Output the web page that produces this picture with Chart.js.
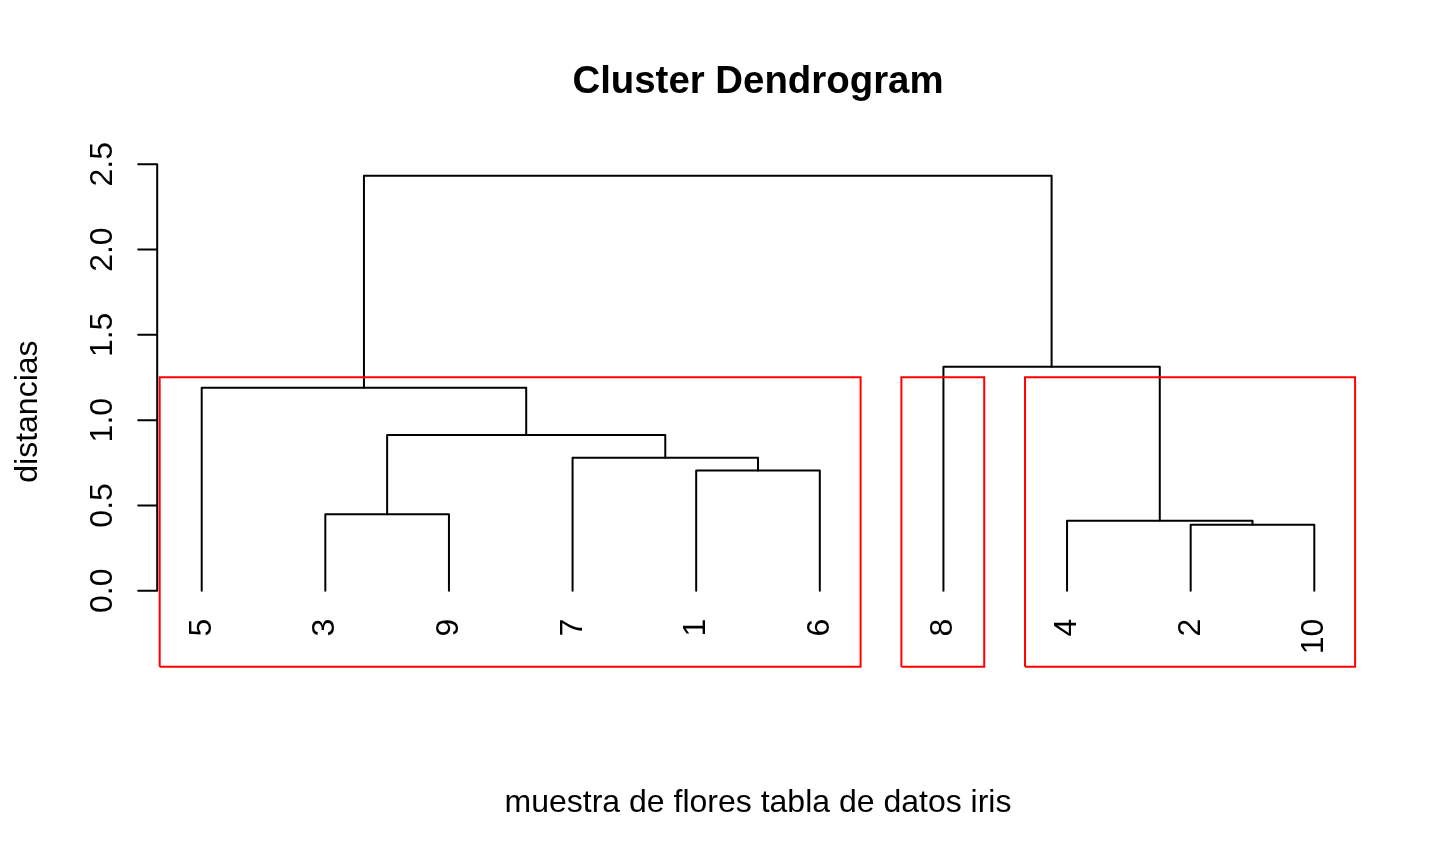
<!DOCTYPE html>
<html><head><meta charset="utf-8">
<script src="https://cdn.jsdelivr.net/npm/chart.js@4/dist/chart.umd.min.js"></script>
<style>html,body{margin:0;padding:0;background:#fff;} #wrap{width:1440px;height:864px;position:relative}</style>
</head><body><div id="wrap"><canvas id="c" width="1440" height="864"></canvas></div>
<script>
const chartTitle = "Cluster Dendrogram";
const xAxisTitle = "muestra de flores tabla de datos iris";
const yAxisTitle = "distancias";
// leaf order, left to right (observation labels)
const leafOrder = [5, 3, 9, 7, 1, 6, 8, 4, 2, 10];
// hclust merges: negative = observation, positive = earlier merge (1-based)
const mergeLeft   = [-2, -4, -3, -1, -7, 3, -5, -8, 7];
const mergeRight  = [-10, 1, -9, -6, 4, 5, 6, 2, 8];
const mergeHeight = [0.387, 0.410, 0.448, 0.704, 0.780, 0.913, 1.190, 1.313, 2.433];
// rect.hclust(k = 3) cluster sizes, left to right
const clusterSizes = [6, 1, 3];
const yTicks = [0, 0.5, 1, 1.5, 2, 2.5];
const yTickLabels = ["0.0", "0.5", "1.0", "1.5", "2.0", "2.5"];

const FONT = '"Liberation Sans", Arial, Helvetica, sans-serif';

const leafPos = {};
leafOrder.forEach((o, i) => { leafPos[o] = i + 1; });
const nodeX = [];
function child(id) {
  return id < 0 ? { x: leafPos[-id], h: 0 } : { x: nodeX[id - 1], h: mergeHeight[id - 1] };
}
const datasets = [];
mergeHeight.forEach((H, i) => {
  const a = child(mergeLeft[i]), b = child(mergeRight[i]);
  nodeX[i] = (a.x + b.x) / 2;
  datasets.push({
    data: [{ x: a.x, y: a.h }, { x: a.x, y: H }, { x: b.x, y: H }, { x: b.x, y: b.h }],
    borderColor: '#000', borderWidth: 2, showLine: true, pointRadius: 0,
    tension: 0, fill: false, clip: false, order: 1,
    borderCapStyle: 'round', borderJoinStyle: 'round'
  });
});

const yMin = -0.4456, yMax = 2.5457;
const k = clusterSizes.length;
const sortedH = mergeHeight.slice().sort((p, q) => p - q);
const rectTop = (sortedH[sortedH.length - k] + sortedH[sortedH.length - k + 1]) / 2;
let start = 0;
clusterSizes.forEach(n => {
  const l = start + 0.66, r = start + n + 0.33;
  datasets.push({
    data: [{ x: l, y: yMin }, { x: l, y: rectTop }, { x: r, y: rectTop }, { x: r, y: yMin }, { x: l, y: yMin }],
    borderColor: '#ff0000', borderWidth: 2, showLine: true, pointRadius: 0,
    tension: 0, fill: false, clip: false, order: 0
  });
  start += n;
});

const textPlugin = {
  id: 'rtext',
  afterDraw(chart) {
    const ctx = chart.ctx, xs = chart.scales.x, ys = chart.scales.y, ca = chart.chartArea;
    ctx.save();
    ctx.fillStyle = '#000';
    // title
    ctx.font = 'bold 38.4px ' + FONT;
    ctx.textAlign = 'center'; ctx.textBaseline = 'alphabetic';
    ctx.fillText(chartTitle, (ca.left + ca.right) / 2, 92.5);
    // x title
    ctx.font = '32px ' + FONT;
    ctx.fillText(xAxisTitle, (ca.left + ca.right) / 2, 812);
    // y title
    ctx.save();
    ctx.translate(37, (ca.top + ca.bottom) / 2);
    ctx.rotate(-Math.PI / 2);
    ctx.fillText(yAxisTitle, 0, 0);
    ctx.restore();
    // y axis
    const axX = ca.left;
    ctx.strokeStyle = '#000'; ctx.lineWidth = 2; ctx.lineCap = 'round';
    ctx.beginPath();
    ctx.moveTo(axX, ys.getPixelForValue(yTicks[0]));
    ctx.lineTo(axX, ys.getPixelForValue(yTicks[yTicks.length - 1]));
    yTicks.forEach(t => {
      const py = ys.getPixelForValue(t);
      ctx.moveTo(axX, py); ctx.lineTo(axX - 19, py);
    });
    ctx.stroke();
    yTicks.forEach((t, i) => {
      const py = ys.getPixelForValue(t);
      ctx.save();
      ctx.translate(112, py);
      ctx.rotate(-Math.PI / 2);
      ctx.textAlign = 'center';
      ctx.fillText(yTickLabels[i], 0, 0);
      ctx.restore();
    });
    // leaf labels
    const y0 = ys.getPixelForValue(0);
    leafOrder.forEach((lab, i) => {
      const px = xs.getPixelForValue(i + 1);
      ctx.save();
      ctx.translate(px, y0 + 28);
      ctx.rotate(-Math.PI / 2);
      ctx.textAlign = 'right';
      ctx.fillText(String(lab), 0, 9);
      ctx.restore();
    });
    ctx.restore();
  }
};

new Chart(document.getElementById('c'), {
  type: 'scatter',
  data: { datasets },
  options: {
    responsive: false, animation: false, events: [],
    layout: { padding: { left: 157.2, right: 81.2, top: 156.5, bottom: 197.3 } },
    plugins: { legend: { display: false }, tooltip: { enabled: false }, title: { display: false } },
    scales: {
      x: { type: 'linear', min: 0.64, max: 10.36, display: false },
      y: { type: 'linear', min: yMin, max: yMax, display: false }
    }
  },
  plugins: [textPlugin]
});
</script>
</body></html>
